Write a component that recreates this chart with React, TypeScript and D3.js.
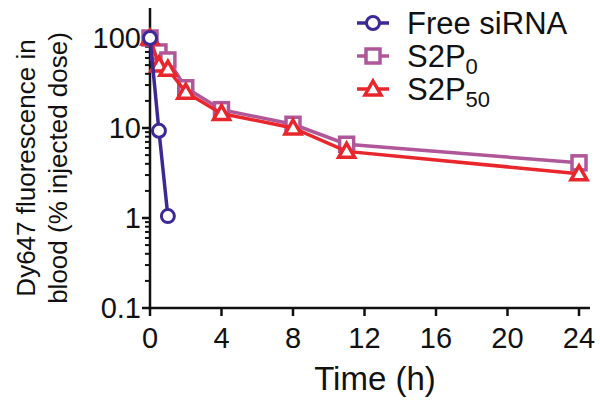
import React from "react";
import * as d3 from "d3";

const freeTime = [0, 0.5, 1];
const freeVals = [100, 9.3, 1.05];
const s2p0Time = [0, 0.5, 1, 2, 4, 8, 11, 24];
const s2p0Vals = [100, 70, 57, 28, 16, 11, 6.6, 4.1];
const s2p50Time = [0, 0.5, 1, 2, 4, 8, 11, 24];
const s2p50Vals = [100, 50, 45, 25, 14.5, 10, 5.5, 3.1];
const xTicks = [0, 4, 8, 12, 16, 20, 24];
const yTicks = [0.1, 1, 10, 100];
const yTickLabels = ["0.1", "1", "10", "100"];

const W = 600, H = 406;
const x = d3.scaleLinear().domain([0, 24]).range([150, 579]);
const y = d3.scaleLog().domain([0.1, 100]).range([308, 38]);

const font = "Liberation Sans, Arial, sans-serif";
const cFree = "#3b2a96";
const cS0 = "#b0579a";
const cS50 = "#e8262c";

function Series({ t, v, color, shape }: { t: number[]; v: number[]; color: string; shape: string }) {
  const line = d3.line<number>().x((_, i) => x(t[i])).y((d) => y(d));
  return (
    <g>
      <path d={line(v) || ""} fill="none" stroke={color} strokeWidth={3.5} />
      {v.map((d, i) => (
        <Marker key={i} cx={x(t[i])} cy={y(d)} color={color} shape={shape} />
      ))}
    </g>
  );
}

function Marker({ cx, cy, color, shape }: { cx: number; cy: number; color: string; shape: string }) {
  if (shape === "circle")
    return <circle cx={cx} cy={cy} r={6.5} fill="white" stroke={color} strokeWidth={3} />;
  if (shape === "square")
    return <rect x={cx - 7} y={cy - 7} width={14} height={14} fill="white" stroke={color} strokeWidth={3.5} />;
  const s = 8;
  return (
    <path
      d={`M${cx},${cy - s}L${cx + s},${cy + s * 0.75}L${cx - s},${cy + s * 0.75}Z`}
      fill="white"
      stroke={color}
      strokeWidth={3.5}
    />
  );
}

export default function App() {
  const minor: number[] = [];
  for (let e = -1; e < 2; e++) for (let k = 2; k <= 9; k++) minor.push(k * Math.pow(10, e));
  const legend = [
    { name: "Free siRNA", sub: "", color: cFree, shape: "circle" },
    { name: "S2P", sub: "0", color: cS0, shape: "square" },
    { name: "S2P", sub: "50", color: cS50, shape: "triangle" },
  ];
  return (
    <svg width={W} height={H} style={{ position: "absolute", left: 0, top: 0, background: "white" }}>
      <line x1={150} y1={8} x2={150} y2={309.5} stroke="#111" strokeWidth={2.5} />
      <line x1={148.5} y1={308} x2={590} y2={308} stroke="#111" strokeWidth={2.5} />
      {yTicks.map((t, i) => (
        <g key={t}>
          <line x1={142} x2={150} y1={y(t)} y2={y(t)} stroke="#111" strokeWidth={2.5} />
          <text x={141} y={y(t)} dy="0.36em" textAnchor="end" fontFamily={font} fontSize={29} fill="#111">
            {yTickLabels[i]}
          </text>
        </g>
      ))}
      {minor.map((t) => (
        <line key={"m" + t} x1={145} x2={150} y1={y(t)} y2={y(t)} stroke="#111" strokeWidth={2} />
      ))}
      {xTicks.map((t) => (
        <g key={"x" + t}>
          <line x1={x(t)} x2={x(t)} y1={308} y2={316} stroke="#111" strokeWidth={2.5} />
          <text x={x(t)} y={348} textAnchor="middle" fontFamily={font} fontSize={29} fill="#111">
            {t}
          </text>
        </g>
      ))}
      <text x={375} y={390} textAnchor="middle" fontFamily={font} fontSize={33} fill="#111">
        Time (h)
      </text>
      <g transform="translate(0,168) rotate(-90)">
        <text x={0} y={35} textAnchor="middle" fontFamily={font} fontSize={26} fill="#111">
          Dy647 fluorescence in
        </text>
        <text x={0} y={67} textAnchor="middle" fontFamily={font} fontSize={26} fill="#111">
          blood (% injected dose)
        </text>
      </g>
      <Series t={s2p0Time} v={s2p0Vals} color={cS0} shape="square" />
      <Series t={s2p50Time} v={s2p50Vals} color={cS50} shape="triangle" />
      <Series t={freeTime} v={freeVals} color={cFree} shape="circle" />
      {legend.map((l, i) => {
        const cy = 23 + i * 33;
        return (
          <g key={l.name + l.sub}>
            <line x1={357} x2={389} y1={cy} y2={cy} stroke={l.color} strokeWidth={3.5} />
            <Marker cx={373} cy={cy} color={l.color} shape={l.shape} />
            <text x={407} y={cy} dy="0.36em" fontFamily={font} fontSize={31} fill="#111">
              {l.name}
              {l.sub && (
                <tspan fontSize={22} dy="7">
                  {l.sub}
                </tspan>
              )}
            </text>
          </g>
        );
      })}
    </svg>
  );
}
